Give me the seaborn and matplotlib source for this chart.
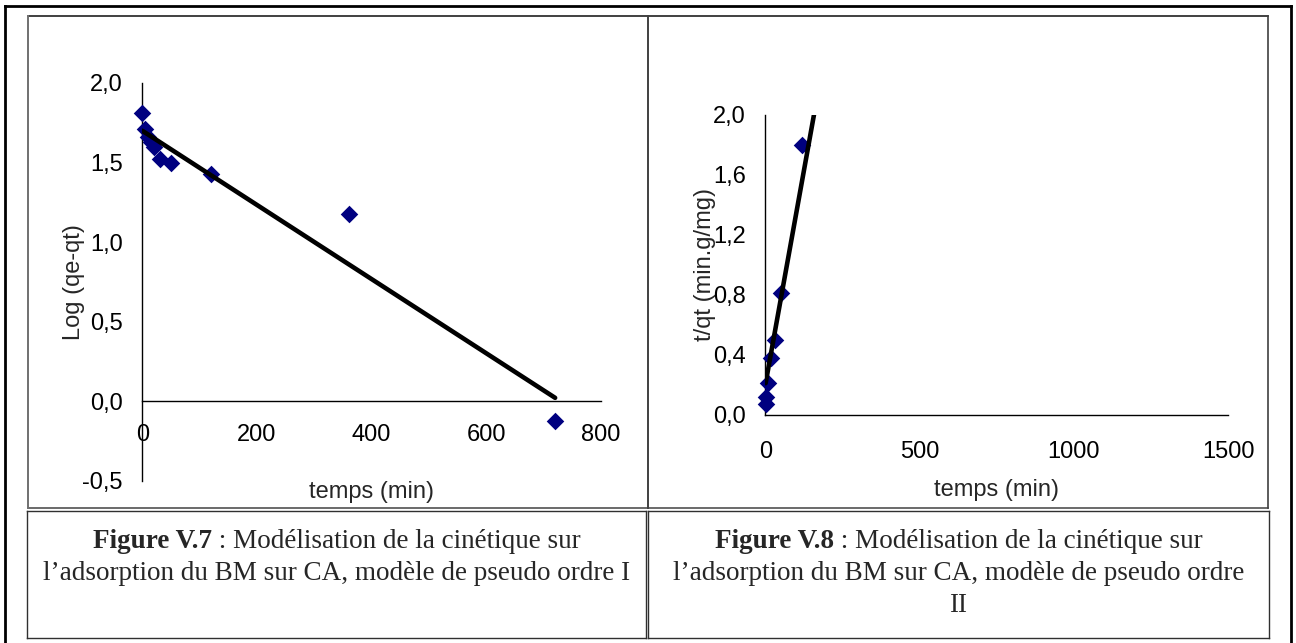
import numpy as np
import pandas as pd
import matplotlib
matplotlib.use("Agg")
import matplotlib.pyplot as plt
import seaborn as sns
from matplotlib.ticker import FuncFormatter, FixedLocator
from matplotlib.lines import Line2D

# ---------------- data ----------------
t1 = [0, 5, 10, 15, 20, 30, 50, 120, 360, 720]
log_qe_qt = [1.81, 1.71, 1.66, 1.63, 1.60, 1.52, 1.50, 1.43, 1.18, -0.12]
fit1_slope = -0.00233
fit1_intercept = 1.70
fit1_range = [0, 720]

t2 = [1, 3, 10, 20, 30, 50, 120]
t_over_qt = [0.07, 0.12, 0.21, 0.38, 0.50, 0.81, 1.80]
fit2_slope = 0.0114
fit2_intercept = 0.20
fit2_range = [1, 720]

x1_ticks = [0, 200, 400, 600, 800]
y1_ticks = [-0.5, 0.0, 0.5, 1.0, 1.5, 2.0]
x2_ticks = [0, 500, 1000, 1500]
y2_ticks = [0.0, 0.4, 0.8, 1.2, 1.6, 2.0]

xlabel = "temps (min)"
ylabel1 = "Log (qe-qt)"
ylabel2 = "t/qt (min.g/mg)"
cap1_bold = "Figure V.7"
cap1_lines = [" : Modélisation de la cinétique sur",
              "l’adsorption du BM sur CA, modèle de pseudo ordre I"]
cap2_bold = "Figure V.8"
cap2_lines = [" : Modélisation de la cinétique sur",
              "l’adsorption du BM sur CA, modèle de pseudo ordre",
              "II"]

# ---------------- style ----------------
sns.set_style("white")
plt.rcParams['font.family'] = ['Liberation Sans', 'DejaVu Sans']
SERIF = ['Liberation Serif', 'DejaVu Serif']
MARK = '#000080'
TFS = 17      # tick / axis label font size
CFS = 19.5    # caption font size

W, H = 1296, 643
fig = plt.figure(figsize=(W / 100, H / 100), dpi=100)
fig.patch.set_facecolor('white')


def fx(px):
    return px / W


def fy(py):
    return 1 - py / H


def comma(v, pos):
    return f"{v:.1f}".replace('.', ',')


def style_axes(ax, xt, yt, xpad):
    for s in ['top', 'right']:
        ax.spines[s].set_visible(False)
    for s in ['left', 'bottom']:
        ax.spines[s].set_color('black')
        ax.spines[s].set_linewidth(1.0)
    ax.xaxis.set_major_locator(FixedLocator(xt))
    ax.yaxis.set_major_locator(FixedLocator(yt))
    ax.yaxis.set_major_formatter(FuncFormatter(comma))
    ax.xaxis.set_major_formatter(FuncFormatter(lambda v, p: f"{v:.0f}"))
    ax.tick_params(axis='both', direction='out', length=5, width=1,
                   labelsize=TFS, colors='black', pad=9)
    ax.tick_params(axis='x', pad=xpad)
    ax.tick_params(axis='y', color='#707070')
    ax.set_facecolor('none')
    ax.grid(False)


# ---------------- left chart ----------------
ax1 = fig.add_axes([fx(142.3), fy(481), (601 - 142.3) / W, (481 - 83) / H])
sns.scatterplot(x=t1, y=log_qe_qt, ax=ax1, marker='D', s=80, color=MARK,
                edgecolor=MARK, linewidth=0, clip_on=False, zorder=3)
xs1 = np.array(fit1_range, dtype=float)
sns.lineplot(x=xs1, y=fit1_intercept + fit1_slope * xs1, ax=ax1,
             color='black', linewidth=3.3, zorder=4)
ax1.set_xlim(0, 800)
ax1.set_ylim(-0.5, 2.0)
style_axes(ax1, x1_ticks, y1_ticks, xpad=11)
ax1.spines['bottom'].set_position(('data', 0))
ax1.set_xlabel(xlabel, fontsize=TFS)
ax1.set_ylabel(ylabel1, fontsize=TFS)
ax1.xaxis.set_label_coords(0.5, (481 - 492) / 398)
ax1.xaxis.label.set_verticalalignment('center')
ax1.yaxis.set_label_coords((74 - 142.3) / 458.7, 0.5)
ax1.yaxis.label.set_verticalalignment('center')

# ---------------- right chart ----------------
ax2 = fig.add_axes([fx(765.3), fy(415), (1228 - 765.3) / W, (415 - 114.6) / H])
sns.scatterplot(x=t2, y=t_over_qt, ax=ax2, marker='D', s=80, color=MARK,
                edgecolor=MARK, linewidth=0, clip_on=False, zorder=3)
xs2 = np.array(fit2_range, dtype=float)
sns.lineplot(x=xs2, y=fit2_intercept + fit2_slope * xs2, ax=ax2,
             color='black', linewidth=3.3, zorder=4)
ax2.set_xlim(0, 1500)
ax2.set_ylim(0, 2.0)
style_axes(ax2, x2_ticks, y2_ticks, xpad=14)
ax2.set_xlabel(xlabel, fontsize=TFS)
ax2.set_ylabel(ylabel2, fontsize=TFS)
ax2.xaxis.set_label_coords(0.5, (415 - 490) / 300.4)
ax2.xaxis.label.set_verticalalignment('center')
ax2.yaxis.set_label_coords((705 - 765.3) / 462.7, 0.5)
ax2.yaxis.label.set_verticalalignment('center')


# ---------------- frames ----------------
def hline(x0, x1, y, color, lw):
    fig.add_artist(Line2D([fx(x0), fx(x1)], [fy(y), fy(y)], color=color,
                          linewidth=lw, solid_capstyle='projecting'))


def vline(x, y0, y1, color, lw):
    fig.add_artist(Line2D([fx(x), fx(x)], [fy(y0), fy(y1)], color=color,
                          linewidth=lw, solid_capstyle='projecting'))


# outer page frame
hline(5, 1291, 6, 'black', 2.0)
vline(5, 6, 650, 'black', 2.0)
vline(1291, 6, 650, 'black', 2.0)

# chart boxes
hline(27.7, 1268, 16, '#202020', 1.2)
hline(27.7, 1268, 508, '#505050', 1.2)
vline(27.7, 16, 508, '#707070', 1.4)
vline(647.7, 16, 508, '#404040', 1.4)
vline(1268, 16, 508, '#404040', 1.2)

# caption boxes
for (x0, x1) in [(27, 645.7), (648, 1269)]:
    hline(x0, x1, 511, '#303030', 1.0)
    hline(x0, x1, 638, '#303030', 1.0)
    vline(x0, 511, 638, '#303030', 1.0)
    vline(x1, 511, 638, '#303030', 1.0)

# ---------------- captions ----------------
renderer = fig.canvas.get_renderer()


def caption(cx, bold, lines, y0=541, dy=32):
    tb = fig.text(0, 0, bold, family=SERIF, fontweight='bold', fontsize=CFS,
                  ha='left', va='center')
    tr = fig.text(0, 0, lines[0], family=SERIF, fontsize=CFS,
                  ha='left', va='center')
    wb = tb.get_window_extent(renderer).width
    wr = tr.get_window_extent(renderer).width
    xs = cx - (wb + wr) / 2
    tb.set_position((fx(xs), fy(y0)))
    tr.set_position((fx(xs + wb), fy(y0)))
    for i, line in enumerate(lines[1:], start=1):
        fig.text(fx(cx), fy(y0 + i * dy), line, family=SERIF, fontsize=CFS,
                 ha='center', va='center')


caption((27 + 645.7) / 2, cap1_bold, cap1_lines)
caption((648 + 1269) / 2, cap2_bold, cap2_lines)

fig.savefig('out.png', dpi=100, facecolor='white')
